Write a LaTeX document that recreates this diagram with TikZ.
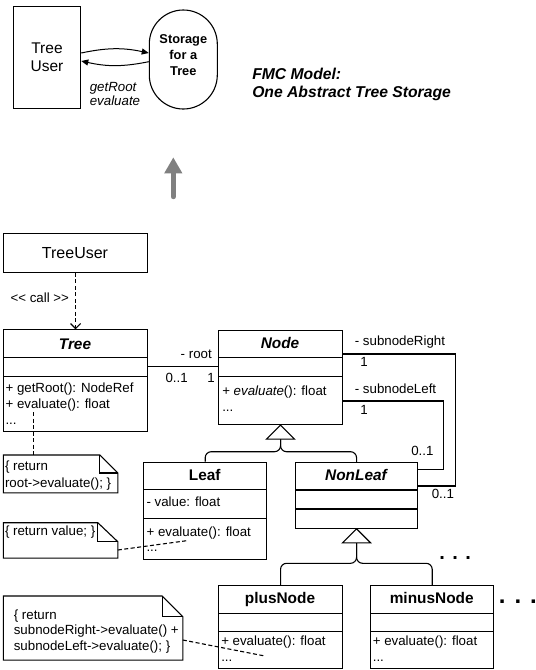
\documentclass[tikz,border=0pt]{standalone}
\usepackage{fontspec}
\setmainfont{Liberation Sans}
\usetikzlibrary{arrows.meta}
\begin{document}
\begin{tikzpicture}[x=1pt,y=-1pt,line width=1.1pt,
  sm/.style={font=\fontsize{13.3}{16}\selectfont, inner sep=0pt},
  smi/.style={font=\fontsize{13.3}{16}\selectfont\itshape, inner sep=0pt},
  cname/.style={font=\fontsize{15.4}{18}\selectfont\bfseries, inner sep=0pt},
  cnamei/.style={font=\fontsize{15.4}{18}\selectfont\bfseries\itshape, inner sep=0pt},
  umlbox/.style={draw, inner sep=0pt, anchor=north west},
  notebox/.style={inner sep=0pt, anchor=north west},
  dsh/.style={dash pattern=on 4pt off 2.5pt},
  toparrow/.style={line width=1pt, -{Triangle[length=7pt,width=6pt]}},
  dots/.style={font=\fontsize{20}{20}\selectfont\bfseries, inner sep=0pt, anchor=base west},
]
\useasboundingbox (0,0) rectangle (536,670);

% ---------- FMC model ----------
\node[draw, inner sep=0pt, minimum width=67.4pt, minimum height=101.6pt, align=center,
      font=\fontsize{15.5}{18.4}\selectfont] (tu) at (47,57.5) {Tree\\User};
\node[draw, rounded corners=34pt, inner sep=0pt, minimum width=68pt, minimum height=99pt] (st) at (183.3,59.5) {};
\node[align=center, inner sep=0pt, font=\fontsize{12.8}{16}\selectfont\bfseries] (sttxt) at (183.3,54.6) {Storage\\for a\\Tree};
\draw[toparrow] ([yshift=4.5pt]tu.east) to[bend left=12] ([yshift=6.5pt]st.west);
\draw[toparrow] ([yshift=-2.2pt]st.west) to[bend left=12] ([yshift=-3.5pt]tu.east);
\node[smi, anchor=base west] (lbl1) at (89.3,91.7) {getRoot};
\node[smi, anchor=base west] (lbl2) at (89.3,105) {evaluate};
\node[font=\fontsize{15.7}{18}\selectfont\bfseries\itshape, inner sep=0pt, anchor=base west] (fmc1) at (251.7,79.3) {FMC Model:};
\node[font=\fontsize{15.7}{18}\selectfont\bfseries\itshape, inner sep=0pt, anchor=base west] (fmc2) at (251.7,97.7) {One Abstract Tree Storage};

% ---------- gray arrow ----------
\coordinate (ga1) at (173.3,196.7);
\coordinate (ga2) at (173.3,157.3);
\draw[line width=5pt, gray, line cap=round, -{Triangle[length=16pt,width=17pt]}] (ga1) -- (ga2);

% ---------- TreeUser ----------
\node[umlbox, minimum width=143.4pt, minimum height=38.4pt, font=\fontsize{16}{18}\selectfont] (tuml) at (3.3,233.3) {};
\node[font=\fontsize{16}{18}\selectfont, inner sep=0pt, anchor=base] (tumltxt) at (75,258.3) {TreeUser};

% ---------- Tree ----------
\node[umlbox, minimum width=143.4pt, minimum height=101.7pt] (tree) at (3.3,329.3) {};
\node[cnamei, anchor=base] (treename) at (75,349) {Tree};
\draw (tree.west |- 0,357.7) -- (tree.east |- 0,357.7);
\draw (tree.west |- 0,376.7) -- (tree.east |- 0,376.7);
\node[sm, anchor=base west] (treem1) at (5,392.7) {+ getRoot(): NodeRef};
\node[sm, anchor=base west] (treem2) at (5,408.5) {+ evaluate(): float};
\node[sm, anchor=base west] (treem3) at (5,424.3) {...};

\draw[dsh, -{Straight Barb[length=5pt,width=10pt]}] (tuml.south) -- (tree.north);
\node[sm, anchor=base west] (call) at (10,302.3) {\mbox{<}\mbox{<} call \mbox{>}\mbox{>}};

% ---------- Node ----------
\node[umlbox, minimum width=123.4pt, minimum height=94pt] (nodecls) at (218.3,330) {};
\node[cnamei, anchor=base] (nodename) at (280,348.7) {Node};
\draw (nodecls.west |- 0,357.7) -- (nodecls.east |- 0,357.7);
\draw (nodecls.west |- 0,376.7) -- (nodecls.east |- 0,376.7);
\node[sm, anchor=base west] (nodem1) at (221.7,395) {+ \textit{evaluate}(): float};
\node[sm, anchor=base west] (nodem2) at (221.7,411.7) {...};

% association Tree - Node
\draw (tree.east |- 0,366.7) -- (nodecls.west |- 0,366.7);
\node[sm, anchor=base east] (root) at (212.3,358.3) {- root};
\node[sm, anchor=base west] (m01a) at (165,382.3) {0..1};
\node[sm, anchor=base west] (m1a) at (206.7,382.3) {1};

% ---------- Leaf ----------
\node[umlbox, minimum width=122.7pt, minimum height=97.6pt] (leaf) at (143.3,461.7) {};
\node[cname, anchor=base] (leafname) at (204.7,480.7) {Leaf};
\draw (leaf.west |- 0,489.3) -- (leaf.east |- 0,489.3);
\draw (leaf.west |- 0,518.3) -- (leaf.east |- 0,518.3);
\node[sm, anchor=base west] (leafa1) at (146,506.7) {- value: float};
\node[sm, anchor=base west] (leafm1) at (146,536.7) {+ evaluate(): float};
\node[sm, anchor=base west] (leafm2) at (146,551.5) {...};

% ---------- NonLeaf ----------
\node[umlbox, minimum width=122pt, minimum height=65.4pt] (nonleaf) at (295,462.3) {};
\node[cnamei, anchor=base] (nonleafname) at (356,480) {NonLeaf};
\draw (nonleaf.west |- 0,490) -- (nonleaf.east |- 0,490);
\draw (nonleaf.west |- 0,509) -- (nonleaf.east |- 0,509);

% subnode associations
\coordinate (r1) at (455.3,354);
\coordinate (r2) at (455.3,486);
\draw (nodecls.east |- r1) -- (r1) -- (r2) -- (nonleaf.east |- r2);
\coordinate (l1) at (443.7,401);
\coordinate (l2) at (443.7,469.3);
\draw (nodecls.east |- l1) -- (l1) -- (l2) -- (nonleaf.east |- l2);
\node[sm, anchor=base west] (snr) at (354.3,345.7) {- subnodeRight};
\node[sm, anchor=base west] (snr1) at (359.7,366.7) {1};
\node[sm, anchor=base west] (snl) at (354.3,393.3) {- subnodeLeft};
\node[sm, anchor=base west] (snl1) at (359.7,414.3) {1};
\node[sm, anchor=base west] (m01b) at (410.7,455) {0..1};
\node[sm, anchor=base west] (m01c) at (431.3,498.3) {0..1};

% inheritance Leaf/NonLeaf -> Node
\coordinate (t1) at ([yshift=-14pt]nodecls.south);
\draw[rounded corners=6pt] (leaf.north) |- (t1 |- 0,451.7) -- (t1);
\draw[rounded corners=6pt] (nonleaf.north) |- (t1 |- 0,451.7) -- (t1);
\draw[fill=white] (nodecls.south) -- ([xshift=-14pt]t1) -- ([xshift=14pt]t1) -- cycle;

% ---------- plusNode / minusNode ----------
\node[umlbox, minimum width=123.4pt, minimum height=83.3pt] (plus) at (218.3,585) {};
\node[cname, anchor=base] (plusname) at (280,603.3) {plusNode};
\draw (plus.west |- 0,613.3) -- (plus.east |- 0,613.3);
\draw (plus.west |- 0,631.7) -- (plus.east |- 0,631.7);
\node[sm, anchor=base west] (plusm1) at (220.7,645.7) {+ evaluate(): float};
\node[sm, anchor=base west] (plusm2) at (220.7,661.7) {...};

\node[umlbox, minimum width=123.3pt, minimum height=83.3pt] (minus) at (370,585) {};
\node[cname, anchor=base] (minusname) at (431.7,603.3) {minusNode};
\draw (minus.west |- 0,613.3) -- (minus.east |- 0,613.3);
\draw (minus.west |- 0,631.7) -- (minus.east |- 0,631.7);
\node[sm, anchor=base west] (minusm1) at (372.3,645.7) {+ evaluate(): float};
\node[sm, anchor=base west] (minusm2) at (372.3,661.7) {...};

\coordinate (t2) at ([yshift=-14pt]nonleaf.south);
\draw[rounded corners=6pt] (plus.north) |- (t2 |- 0,563.3) -- (t2);
\draw[rounded corners=6pt] (minus.north) |- (t2 |- 0,563.3) -- (t2);
\draw[fill=white] (nonleaf.south) -- ([xshift=-14pt]t2) -- ([xshift=14pt]t2) -- cycle;

\node[dots] (dots1) at (438.9,559.7) {. . .};
\node[dots, font=\fontsize{24}{24}\selectfont\bfseries] (dots2) at (498.4,603.2) {. . .};

% ---------- notes ----------
\node[notebox, minimum width=113.4pt, minimum height=36.7pt] (note1) at (3.3,455) {};
\draw (note1.north west) -- ([xshift=-18pt]note1.north east) -- ([yshift=-18pt]note1.north east) -- (note1.south east) -- (note1.south west) -- cycle;
\draw ([xshift=-18pt]note1.north east) -- ([xshift=-18pt,yshift=-18pt]note1.north east) -- ([yshift=-18pt]note1.north east);
\node[sm, anchor=base west] (n1a) at (4.5,470.7) {\{ return};
\node[sm, anchor=base west] (n1b) at (4.5,487.3) {root->evaluate(); \}};
\coordinate (d1) at (33.3,412);
\draw[dsh] (d1) -- (d1 |- note1.north);

\node[notebox, minimum width=113.4pt, minimum height=34.3pt] (note2) at (3.3,522.7) {};
\draw (note2.north west) -- ([xshift=-20pt]note2.north east) -- ([yshift=-19pt]note2.north east) -- (note2.south east) -- (note2.south west) -- cycle;
\draw ([xshift=-20pt]note2.north east) -- ([xshift=-20pt,yshift=-19pt]note2.north east) -- ([yshift=-19pt]note2.north east);
\node[sm, anchor=base west] (n2a) at (4.5,535.7) {\{ return value; \}};
\coordinate (d2) at (186.7,540.7);
\draw[dsh] (note2.east |- 0,550) -- (d2);

\node[notebox, minimum width=178.4pt, minimum height=63pt] (note3) at (3.3,596) {};
\draw (note3.north west) -- ([xshift=-20.7pt]note3.north east) -- ([yshift=-20.7pt]note3.north east) -- (note3.south east) -- (note3.south west) -- cycle;
\draw ([xshift=-20.7pt]note3.north east) -- ([xshift=-20.7pt,yshift=-20.7pt]note3.north east) -- ([yshift=-20.7pt]note3.north east);
\node[sm, anchor=base west] (n3a) at (13.3,619) {\{ return};
\node[sm, anchor=base west] (n3b) at (13.3,634.5) {subnodeRight->evaluate() +};
\node[sm, anchor=base west] (n3c) at (13.3,650.5) {subnodeLeft->evaluate(); \}};
\coordinate (d3) at (263.3,655.7);
\draw[dsh] (note3.east |- 0,640) -- (d3);
\end{tikzpicture}
\end{document}
